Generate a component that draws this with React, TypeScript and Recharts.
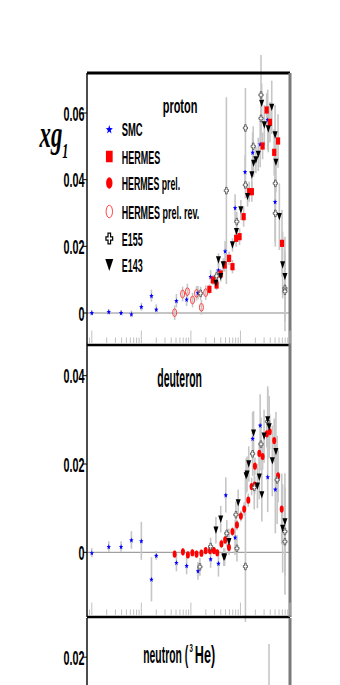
import { ErrorBar, ReferenceLine, Scatter, ScatterChart, XAxis, YAxis } from 'recharts'

// [x, xg1, error]
type Pt = [number, number, number]

const PROTON_SMC: Pt[] = [
  [1.0e-4, 0.0001, 0.0008], [2.2e-4, 0.0004, 0.0008], [3.9e-4, 0.0001, 0.0008],
  [6.3e-4, -0.0003, 0.001], [1.0e-3, 0.0019, 0.0012], [1.6e-3, 0.0052, 0.0018],
  [2.0e-3, 0.0011, 0.0015], [5.1e-3, 0.0037, 0.002], [8.2e-3, 0.0041, 0.002],
  [0.0139, 0.0061, 0.002], [0.025, 0.0109, 0.002], [0.036, 0.0129, 0.0025],
  [0.049, 0.0186, 0.003], [0.078, 0.0316, 0.004], [0.124, 0.0424, 0.005],
  [0.176, 0.0482, 0.006], [0.25, 0.0507, 0.007], [0.355, 0.058, 0.009],
  [0.5, 0.0334, 0.012],
]
const PROTON_HERMES: Pt[] = [
  [0.0236, 0.0071, 0.0015], [0.028, 0.0099, 0.0015], [0.033, 0.0084, 0.0015],
  [0.04, 0.0117, 0.0015], [0.048, 0.0144, 0.002], [0.059, 0.0164, 0.002],
  [0.069, 0.0139, 0.002], [0.082, 0.0224, 0.0025], [0.096, 0.0229, 0.0025],
  [0.116, 0.0289, 0.003], [0.15, 0.0364, 0.003], [0.17, 0.0364, 0.003],
  [0.28, 0.0501, 0.004], [0.338, 0.0609, 0.005], [0.394, 0.0572, 0.006],
  [0.48, 0.0482, 0.007], [0.574, 0.0516, 0.008], [0.69, 0.0209, 0.01],
]
const PROTON_PREL: Pt[] = []
const PROTON_REV: Pt[] = [
  [0.0047, 0.0001, 0.0022], [0.0068, 0.0057, 0.0022], [0.0085, 0.0064, 0.0024],
  [0.0108, 0.0039, 0.0022], [0.013, 0.0059, 0.0022], [0.0163, 0.0017, 0.0022],
  [0.0199, 0.0061, 0.0022],
]
const PROTON_E155: Pt[] = [
  [0.0157, 0.0059, 0.002], [0.033, 0.0111, 0.002], [0.052, 0.0367, 0.028],
  [0.0845, 0.0274, 0.003], [0.126, 0.0384, 0.004], [0.126, 0.0555, 0.012],
  [0.181, 0.05, 0.006], [0.26, 0.0584, 0.008], [0.26, 0.0654, 0.012],
  [0.506, 0.0389, 0.01], [0.506, 0.0299, 0.01], [0.79, 0.0074, 0.01],
  [0.79, 0.0065, 0.012],
]
const PROTON_E143: Pt[] = [
  [0.032, 0.0089, 0.0015], [0.036, 0.0159, 0.002], [0.04, 0.0109, 0.0015],
  [0.045, 0.0144, 0.002], [0.069, 0.0204, 0.002], [0.083, 0.0244, 0.0025],
  [0.102, 0.0309, 0.003], [0.139, 0.0349, 0.003], [0.17, 0.0414, 0.004],
  [0.184, 0.0449, 0.004], [0.205, 0.0459, 0.004], [0.229, 0.0476, 0.005],
  [0.268, 0.0629, 0.006], [0.303, 0.0564, 0.006], [0.365, 0.0552, 0.007],
  [0.428, 0.0617, 0.008], [0.5, 0.0534, 0.009], [0.52, 0.0452, 0.009],
  [0.61, 0.0289, 0.01], [0.71, 0.0144, 0.01], [0.79, 0.0109, 0.012],
]

const DEUTERON_SMC: Pt[] = [
  [1.0e-4, -0.0001, 0.001], [2.2e-4, 0.0013, 0.0012], [3.9e-4, 0.0013, 0.0012],
  [6.3e-4, 0.0028, 0.002], [1.0e-3, 0.0026, 0.0043], [1.6e-3, -0.0061, 0.005],
  [2.0e-3, -0.0007, 0.001], [5.1e-3, -0.0023, 0.002], [8.2e-3, -0.003, 0.002],
  [0.0139, -0.0042, 0.002], [0.025, -0.0015, 0.002], [0.036, -0.0025, 0.003],
  [0.0506, 0.013, 0.004], [0.078, 0.0034, 0.004], [0.176, 0.0258, 0.006],
  [0.25, 0.0288, 0.007], [0.355, 0.0171, 0.008], [0.506, 0.0143, 0.01],
]
const DEUTERON_HERMES: Pt[] = []
const DEUTERON_PREL: Pt[] = [
  [0.0047, -0.0004, 0.0008], [0.0069, 0.0001, 0.0008], [0.0087, -0.0006, 0.0008],
  [0.0107, -0.0001, 0.0008], [0.013, -0.0004, 0.0008], [0.0163, -0.0002, 0.0008],
  [0.0199, 0.0004, 0.0008], [0.0243, 0.0004, 0.0008], [0.0292, 0.0004, 0.0008],
  [0.034, -0.0001, 0.0008], [0.0413, 0.0019, 0.001], [0.049, 0.0028, 0.001],
  [0.0586, 0.0011, 0.001], [0.069, 0.0047, 0.001], [0.085, 0.0062, 0.0012],
  [0.102, 0.0082, 0.0012], [0.119, 0.0098, 0.0015], [0.144, 0.0118, 0.0015],
  [0.168, 0.0149, 0.002], [0.194, 0.0152, 0.002], [0.196, 0.0195, 0.002],
  [0.24, 0.0224, 0.0025], [0.28, 0.0217, 0.003], [0.34, 0.0268, 0.003],
  [0.39, 0.0273, 0.004], [0.48, 0.0253, 0.005], [0.575, 0.0173, 0.006],
  [0.68, 0.0098, 0.008],
]
const DEUTERON_REV: Pt[] = []
const DEUTERON_E155: Pt[] = [
  [0.0152, -0.0033, 0.002], [0.025, 0.0013, 0.002], [0.053, 0.0043, 0.003],
  [0.081, 0.0085, 0.003], [0.085, 0.0009, 0.003], [0.126, -0.0032, 0.02],
  [0.176, 0.0223, 0.005], [0.19, 0.0147, 0.005], [0.26, 0.0245, 0.006],
  [0.355, 0.0296, 0.008], [0.55, 0.0164, 0.01], [0.79, 0.0047, 0.01],
  [0.79, 0.0024, 0.012],
]
const DEUTERON_E143: Pt[] = [
  [0.032, 0.005, 0.003], [0.04, 0.0075, 0.003], [0.046, -0.0011, 0.002],
  [0.048, -0.0011, 0.002], [0.0586, 0.0024, 0.003], [0.09, 0.0112, 0.003],
  [0.13, 0.0173, 0.004], [0.136, 0.0177, 0.004], [0.147, 0.02, 0.004],
  [0.184, 0.027, 0.005], [0.22, 0.015, 0.005], [0.24, 0.017, 0.005],
  [0.27, 0.013, 0.006], [0.3, 0.0263, 0.006], [0.355, 0.03, 0.007],
  [0.38, 0.0284, 0.007], [0.44, 0.0207, 0.008], [0.52, 0.0228, 0.009],
  [0.71, 0.0054, 0.01], [0.79, 0.0069, 0.011],
]

const NEUTRON_E155: Pt[] = [[0.377, -0.012, 0.035]]

const SERIES_NAMES = ['SMC', 'HERMES', 'HERMES prel.', 'HERMES prel. rev.', 'E155', 'E143']
const SERIES_KINDS = ['smc', 'hermes', 'prel', 'rev', 'e155', 'e143']

const PROTON_TICKS = [0, 0.02, 0.04, 0.06]
const DEUTERON_TICKS = [0, 0.02, 0.04]
const NEUTRON_TICKS = [0.02]

const X_DECADES = [1e-4, 1e-3, 1e-2, 1e-1, 1]
const X_MINOR = [2, 3, 4, 5, 6, 7, 8, 9]
const X_TICKS = [9e-5, ...X_DECADES.flatMap((d) => (d < 1 ? [d, ...X_MINOR.map((m) => m * d)] : [d]))]

const SANS = "'Liberation Sans', Arial, sans-serif"
const SERIF = "'Liberation Serif', 'Times New Roman', serif"

const toRows = (pts: Pt[]) => pts.map(([x, y, e]) => ({ x, y, e }))

function Marker({ kind, cx, cy, big = false }: { kind: string; cx: number; cy: number; big?: boolean }) {
  if (cx == null || cy == null) return null
  const k = big ? 1.6 : 1
  if (kind === 'smc') {
    const w = 4.6 * k
    const h = 5.8 * k
    const pts = []
    for (let i = 0; i < 10; i++) {
      const r = i % 2 === 0 ? 1 : 0.42
      const a = -Math.PI / 2 + (i * Math.PI) / 5
      pts.push(`${cx + (Math.cos(a) * r * w) / 2},${cy + (Math.sin(a) * r * h) / 2 + 0.4 * k}`)
    }
    return <polygon points={pts.join(' ')} fill="#0000ff" />
  }
  if (kind === 'hermes') {
    const w = 4.2 * k
    const h = 7.2 * k
    return <rect x={cx - w / 2} y={cy - h / 2} width={w} height={h} fill="#ff0000" />
  }
  if (kind === 'prel') {
    return <ellipse cx={cx} cy={cy} rx={2 * k} ry={3.6 * k} fill="#ff0000" />
  }
  if (kind === 'rev') {
    return <ellipse cx={cx} cy={cy} rx={2 * k} ry={3.9 * k} fill="none" stroke="#ff3030" strokeWidth={0.9} />
  }
  if (kind === 'e155') {
    const w = 4.2 * k
    const h = 6.6 * k
    const tx = w * 0.38
    const ty = h * 0.3
    const p = [
      [-tx / 2, -h / 2], [tx / 2, -h / 2], [tx / 2, -ty / 2], [w / 2, -ty / 2], [w / 2, ty / 2], [tx / 2, ty / 2],
      [tx / 2, h / 2], [-tx / 2, h / 2], [-tx / 2, ty / 2], [-w / 2, ty / 2], [-w / 2, -ty / 2], [-tx / 2, -ty / 2],
    ]
    return (
      <polygon
        points={p.map(([a, b]) => `${cx + a},${cy + b}`).join(' ')}
        fill="#fff"
        stroke={big ? '#000' : '#444'}
        strokeWidth={big ? 1.2 : 0.8}
      />
    )
  }
  // e143: inverted triangle
  const w = 5 * k
  const h = 7.4 * k
  return <polygon points={`${cx - w / 2},${cy - h / 2} ${cx + w / 2},${cy - h / 2} ${cx},${cy + h / 2}`} fill="#000" />
}

function XTick(props: any) {
  const { x, y, payload } = props
  const lg = Math.log10(payload.value)
  const major = Math.abs(lg - Math.round(lg)) < 1e-6
  const len = major ? 14.5 : 7.5
  return <line x1={x} x2={x} y1={y - 1.5} y2={y - len} stroke="#c2c2c2" strokeWidth={1} />
}

function YTick(props: any) {
  const { x, y, payload } = props
  const v = payload.value
  const label = v === 0 ? '0' : v.toFixed(2)
  return (
    <text
      x={x + 1.5}
      y={y + 7.5}
      textAnchor="end"
      fontFamily={SANS}
      fontWeight="bold"
      fontSize={21}
      textLength={label.length === 1 ? 6 : 21}
      lengthAdjust="spacingAndGlyphs"
      fill="#000"
    >
      {label}
    </text>
  )
}

interface PanelProps {
  top: number
  height: number
  marginTop: number
  domain: [number, number]
  ticks: number[]
  series: Pt[][]
  showTop?: boolean
}

function Panel({ top, height, marginTop, domain, ticks, series, showTop }: PanelProps) {
  return (
    <div style={{ position: 'absolute', left: 0, top, width: 340, height }}>
      <ScatterChart width={340} height={height} margin={{ top: marginTop, right: 49, bottom: 4, left: 0 }}>
        <XAxis
          dataKey="x"
          type="number"
          scale="log"
          domain={[8e-5, 1]}
          allowDataOverflow
          ticks={X_TICKS}
          interval={0}
          tickSize={0}
          tickMargin={0}
          tickLine={false}
          height={1}
          axisLine={{ stroke: '#000', strokeWidth: 2.6 }}
          tick={<XTick />}
        />
        {showTop && (
          <XAxis
            xAxisId="top"
            orientation="top"
            type="number"
            scale="log"
            domain={[8e-5, 1]}
            allowDataOverflow
            height={1}
            tick={false}
            tickLine={false}
            axisLine={{ stroke: '#000', strokeWidth: 3 }}
          />
        )}
        <YAxis
          dataKey="y"
          type="number"
          domain={domain}
          allowDataOverflow
          ticks={ticks}
          interval={0}
          width={87}
          tickSize={4}
          tickMargin={0}
          tickLine={{ stroke: '#000', strokeWidth: 1 }}
          axisLine={{ stroke: '#000', strokeWidth: 1.4 }}
          tick={<YTick />}
        />
        <YAxis
          yAxisId="r"
          orientation="right"
          type="number"
          domain={[0, 1]}
          width={1}
          tick={false}
          tickLine={false}
          axisLine={{ stroke: '#7a7a7a', strokeWidth: 3 }}
        />
        <ReferenceLine y={0} stroke="#8a8a8a" strokeWidth={1} />
        {series.map((pts, i) => (
          <Scatter
            key={SERIES_NAMES[i]}
            name={SERIES_NAMES[i]}
            data={toRows(pts)}
            isAnimationActive={false}
            shape={(p: any) => <Marker kind={SERIES_KINDS[i]} cx={p.cx} cy={p.cy} />}
          >
            <ErrorBar dataKey="e" direction="y" width={0} stroke="#c6c6c6" strokeWidth={1.6} />
          </Scatter>
        ))}
      </ScatterChart>
    </div>
  )
}

const LEGEND_ROWS = [129, 156.5, 183, 211.5, 238.5, 265]
const LEGEND_WIDTHS = [21, 38.5, 58.5, 77.5, 21, 21]

export default function App() {
  return (
    <div style={{ position: 'absolute', left: 0, top: 0, width: 340, height: 685, overflow: 'hidden', background: '#fff' }}>
      <Panel
        top={0}
        height={350}
        marginTop={72}
        domain={[-0.0096, 0.072]}
        ticks={PROTON_TICKS}
        series={[PROTON_SMC, PROTON_HERMES, PROTON_PREL, PROTON_REV, PROTON_E155, PROTON_E143]}
        showTop
      />
      <Panel
        top={340}
        height={282}
        marginTop={5}
        domain={[-0.01465, 0.04695]}
        ticks={DEUTERON_TICKS}
        series={[DEUTERON_SMC, DEUTERON_HERMES, DEUTERON_PREL, DEUTERON_REV, DEUTERON_E155, DEUTERON_E143]}
      />
      <Panel
        top={612}
        height={320}
        marginTop={6}
        domain={[-0.0413, 0.0289]}
        ticks={NEUTRON_TICKS}
        series={[[], [], [], [], NEUTRON_E155, []]}
      />
      <svg width={340} height={685} style={{ position: 'absolute', left: 0, top: 0, pointerEvents: 'none' }}>
        <text
          transform="translate(39.5,147) scale(0.6,1)"
          fontFamily={SERIF}
          fontStyle="italic"
          fontWeight="bold"
          fontSize={38}
        >
          xg
          <tspan fontSize={20} dy={11}>1</tspan>
        </text>
        <text x={162.7} y={112.5} fontFamily={SANS} fontWeight="bold" fontSize={20} textLength={34.7} lengthAdjust="spacingAndGlyphs">
          proton
        </text>
        <text x={157.3} y={386.5} fontFamily={SANS} fontWeight="bold" fontSize={25} textLength={44.7} lengthAdjust="spacingAndGlyphs">
          deuteron
        </text>
        <text transform="translate(143.3,663) scale(0.45,1)" fontFamily={SANS} fontWeight="bold" fontSize={23}>
          neutron (
        </text>
        <text transform="translate(189.6,652) scale(0.55,1)" fontFamily={SANS} fontWeight="bold" fontSize={11}>
          3
        </text>
        <text transform="translate(194.8,663) scale(0.55,1)" fontFamily={SANS} fontWeight="bold" fontSize={23}>
          He)
        </text>
        {SERIES_NAMES.map((name, i) => (
          <g key={name}>
            <Marker kind={SERIES_KINDS[i]} cx={109.3} cy={LEGEND_ROWS[i]} big />
            <text
              x={121.7}
              y={LEGEND_ROWS[i] + 7}
              fontFamily={SANS}
              fontWeight="bold"
              fontSize={18}
              textLength={LEGEND_WIDTHS[i]}
              lengthAdjust="spacingAndGlyphs"
            >
              {name}
            </text>
          </g>
        ))}
      </svg>
    </div>
  )
}
